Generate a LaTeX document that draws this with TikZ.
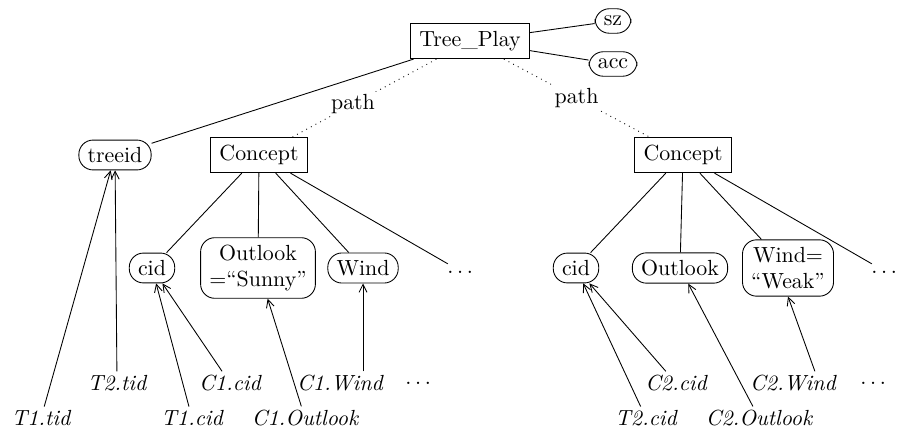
\documentclass[tikz,border=0pt]{standalone}
\usepackage{xcolor}
\usepackage{tikz}
\usepackage{amsmath, amssymb}
\usetikzlibrary{arrows.meta}

\begin{document}
\begin{tikzpicture}[
  x=0.457pt, y=-0.457pt,
  entity/.style={draw, rectangle, inner xsep=4pt, inner ysep=3.6pt},
  field/.style={draw, rounded corners=6.5pt, inner xsep=4pt, inner ysep=3.3pt, align=center},
  colref/.style={font=\itshape, inner sep=1.5pt},
  more/.style={inner sep=3pt},
  refarrow/.style={-{Straight Barb[length=3.6pt,width=3.6pt]}},
  pathlink/.style={dotted}
]
\useasboundingbox (0,0) rectangle (902,435);

% top of the tree
\node[entity] (play) at (470,41) {Tree\_Play};
\node[field] (sz) at (613,21) {sz};
\node[field] (acc) at (613,64) {acc};
\node[field] (treeid) at (115,155) {treeid};
\node[entity] (conceptA) at (259,155) {Concept};
\node[entity] (conceptB) at (683,155) {Concept};

% attributes
\node[field] (cidA) at (152,268) {cid};
\node[field] (outlookA) at (258,268) {Outlook\\=``Sunny''};
\node[field] (windA) at (363,268) {Wind};
\node[more] (moreA) at (462,272) {$\dots$};
\node[field] (cidB) at (576,268) {cid};
\node[field] (outlookB) at (680,268) {Outlook};
\node[field] (windB) at (788,268) {Wind=\\``Weak''};
\node[more] (moreB) at (886,272) {$\dots$};

% column references
\node[colref] (t2tid) at (117,383) {T2.tid};
\node[colref] (c1cid) at (230,383) {C1.cid};
\node[colref] (c1wind) at (340,383) {C1.Wind};
\node[colref] (dotsA) at (420,383) {$\dots$};
\node[colref] (t1tid) at (41,418) {T1.tid};
\node[colref] (t1cid) at (192,418) {T1.cid};
\node[colref] (c1outlook) at (305,418) {C1.Outlook};
\node[colref] (c2cid) at (676,383) {C2.cid};
\node[colref] (c2wind) at (793,383) {C2.Wind};
\node[colref] (dotsB) at (875,383) {$\dots$};
\node[colref] (t2cid) at (646,418) {T2.cid};
\node[colref] (c2outlook) at (759,418) {C2.Outlook};

% edges
\draw (play) -- (sz);
\draw (play) -- (acc);
\draw (play) -- (treeid);
\draw[pathlink] (play) -- node[pos=0.58, fill=white, inner sep=1pt] {path} (conceptA);
\draw[pathlink] (play) -- node[pos=0.5, fill=white, inner sep=1pt] {path} (conceptB);
\foreach \kid in {cidA, outlookA, windA, moreA}
  \draw (conceptA) -- (\kid);
\foreach \kid in {cidB, outlookB, windB, moreB}
  \draw (conceptB) -- (\kid);

% references
\draw[refarrow] (t1tid) -- (treeid);
\draw[refarrow] (t2tid) -- (treeid);
\draw[refarrow] (t1cid) -- (cidA);
\draw[refarrow] (c1cid) -- (cidA);
\draw[refarrow] (c1outlook) -- (outlookA);
\draw[refarrow] (windA.south |- c1wind.north) -- (windA.south);
\draw[refarrow] (t2cid) -- (cidB);
\draw[refarrow] (c2cid) -- (cidB);
\draw[refarrow] (c2outlook) -- (outlookB);
\draw[refarrow] ([xshift=10pt]c2wind.north) -- (windB.south);
\end{tikzpicture}
\end{document}
